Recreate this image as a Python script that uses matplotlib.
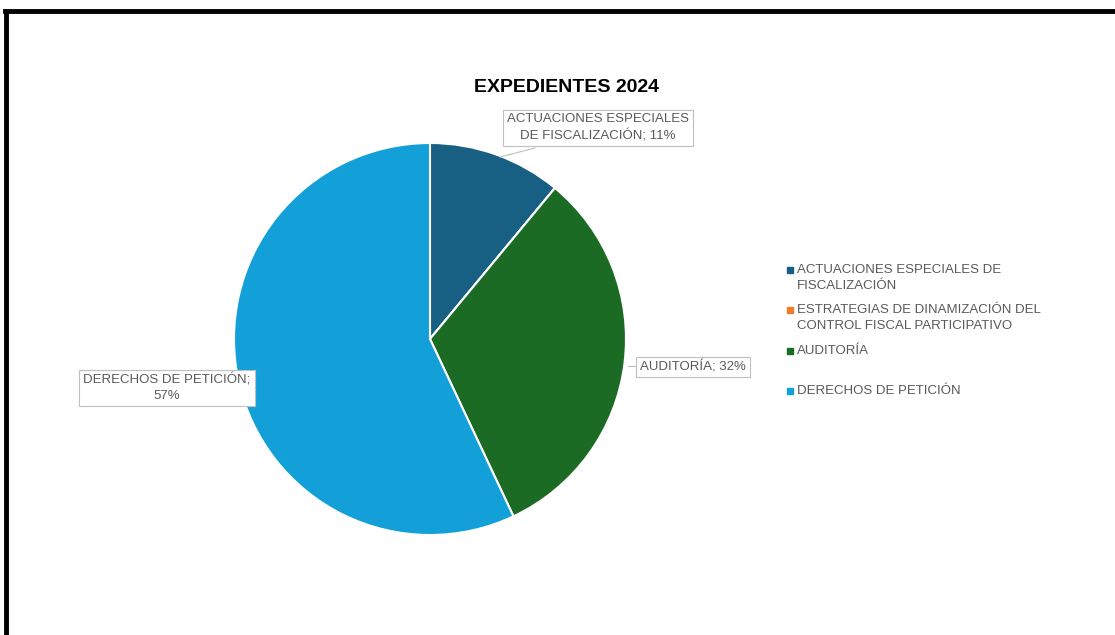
import matplotlib
matplotlib.use("Agg")
import matplotlib.pyplot as plt
from matplotlib.patches import Rectangle
from matplotlib.lines import Line2D

# Datos
categorias = ["ACTUACIONES ESPECIALES DE FISCALIZACIÓN",
              "ESTRATEGIAS DE DINAMIZACIÓN DEL CONTROL FISCAL PARTICIPATIVO",
              "AUDITORÍA",
              "DERECHOS DE PETICIÓN"]
leyenda = ["ACTUACIONES ESPECIALES DE\nFISCALIZACIÓN",
           "ESTRATEGIAS DE DINAMIZACIÓN DEL\nCONTROL FISCAL PARTICIPATIVO",
           "AUDITORÍA",
           "DERECHOS DE PETICIÓN"]
etiquetas = ["ACTUACIONES ESPECIALES\nDE FISCALIZACIÓN; 11%",
             None,
             "AUDITORÍA; 32%",
             "DERECHOS DE PETICIÓN;\n57%"]
valores = [11, 0, 32, 57]
colores = ["#185F84", "#EE7D31", "#1C6B24", "#139FD7"]

W, H = 1115, 635
fig = plt.figure(figsize=(W / 100, H / 100), dpi=100)
fig.patch.set_facecolor("white")
plt.rcParams['font.family'] = ['Liberation Sans', 'DejaVu Sans']
gris = "#595959"

# marco negro (solo arriba e izquierda visibles)
fig.add_artist(Line2D([5 / W, 1], [1 - 11 / H, 1 - 11 / H], color="black", lw=3.5,
                      transform=fig.transFigure))
fig.add_artist(Line2D([6 / W, 6 / W], [0, 1 - 11 / H], color="black", lw=3.5,
                      transform=fig.transFigure))

# tarta
cx, cy, r = 430, 339, 196
ax = fig.add_axes([(cx - r) / W, (H - cy - r) / H, 2 * r / W, 2 * r / H])
wedges, _ = ax.pie(valores, colors=colores, startangle=90, counterclock=False,
                   radius=1, wedgeprops=dict(edgecolor="white", linewidth=1.5))
ax.set_xlim(-1, 1)
ax.set_ylim(-1, 1)
ax.set_aspect("equal")

fig.text(567 / W, 1 - 87 / H, "EXPEDIENTES 2024", ha="center", va="center",
         fontsize=14, fontweight="bold", color="black")

caja = dict(boxstyle="square,pad=0.3", fc="white", ec="#BFBFBF", lw=0.8)
# posiciones de las etiquetas (pixeles) y punto de anclaje
pos = [(598, 128), None, (693, 367), (167, 388)]
anc = [(500, 157), None, (628, 366), None]
for i, lab in enumerate(etiquetas):
    if lab is None:
        continue
    x, y = pos[i]
    fig.text(x / W, 1 - y / H, lab, ha="center", va="center", fontsize=9.5,
             color=gris, bbox=caja, linespacing=1.4)
    if anc[i] is not None:
        ax0 = anc[i]
        x1 = 535 if i == 0 else 636
        y1 = 148 if i == 0 else 366
        fig.add_artist(Line2D([ax0[0] / W, x1 / W], [1 - ax0[1] / H, 1 - y1 / H],
                              color="#BFBFBF", lw=0.8, transform=fig.transFigure))

# leyenda
ly = [270, 310, 351, 391]
for i, lab in enumerate(leyenda):
    fig.add_artist(Rectangle((787 / W, 1 - (ly[i] + 3) / H), 6 / W, 6 / H,
                             color=colores[i], transform=fig.transFigure))
    fig.text(797 / W, 1 - (ly[i] - 6) / H, lab, ha="left", va="top", fontsize=9.5,
             color=gris, linespacing=1.45)

fig.savefig("out.png", dpi=100)
